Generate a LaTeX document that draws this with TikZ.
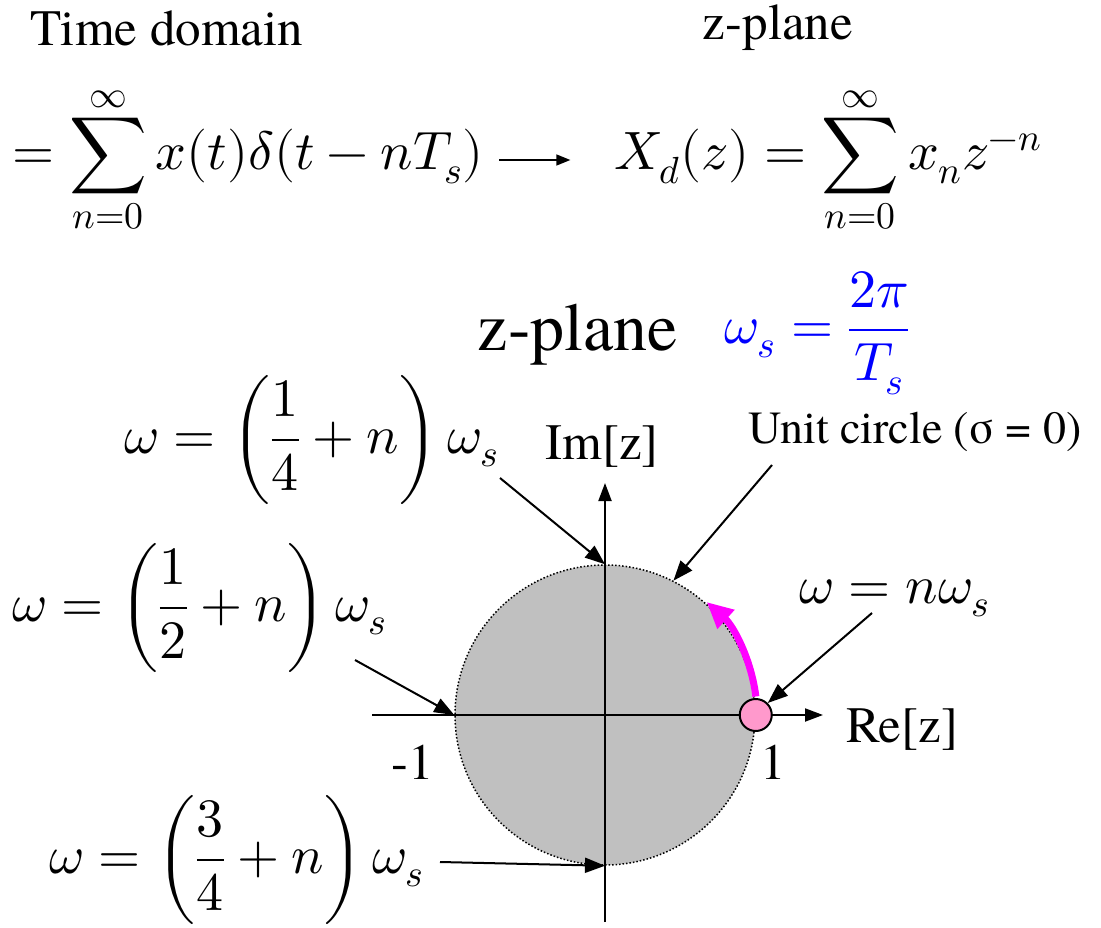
\documentclass[tikz,border=0pt]{standalone}
\usepackage{amsmath}
\usepackage{unicode-math}
\setmainfont{texgyretermes}[Extension=.otf, UprightFont=*-regular, BoldFont=*-bold, ItalicFont=*-italic, BoldItalicFont=*-bolditalic]
\setmathfont{Latin Modern Math}
\usetikzlibrary{arrows.meta}
\definecolor{circgray}{RGB}{192,192,192}
\definecolor{pinkpt}{RGB}{255,153,204}
\definecolor{magarc}{RGB}{255,0,255}
\definecolor{bluef}{RGB}{0,0,255}
\begin{document}
\begin{tikzpicture}[x=1pt,y=-1pt,
  lbl/.style={font=\rmfamily\fontsize{51}{60}\selectfont, inner sep=0pt},
  ulbl/.style={font=\rmfamily\fontsize{46}{54}\selectfont, inner sep=0pt},
  big/.style={font=\rmfamily\fontsize{68}{80}\selectfont, inner sep=0pt},
  mth/.style={font=\fontsize{54}{64}\selectfont, inner sep=0pt},
  ptr/.style={line width=2pt,-{Triangle[length=20pt,width=15pt]}},
  axisline/.style={line width=2pt,-{Triangle[length=18pt,width=13pt]}},
]
\useasboundingbox (0,0) rectangle (1101,928);

% top row
\node[lbl] (time) at (167,28) {Time domain};
\node[lbl] (zp1) at (778,28) {z-plane};
\node[mth] (f1) at (248,160) {$\displaystyle =\sum_{n=0}^{\infty} x(t)\delta(t-nT_s)$};
\node[mth] (f2) at (828,160) {$\displaystyle X_d(z)=\sum_{n=0}^{\infty} x_n z^{-n}$};
\draw[line width=1.5pt,-{Triangle[length=14pt,width=11pt]},shorten <=15pt,shorten >=44pt] (f1.east) -- (f2.west);

% titles
\node[big] (zp2) at (578,335) {z-plane};
\node[mth,text=bluef] (ws) at (817,333) {$\omega_s=\dfrac{2\pi}{T_s}$};

% unit circle
\node[circle, minimum size=300pt, inner sep=0pt, fill=circgray, draw, dotted, line width=1.5pt] (uc) at (605,715) {};

% axes
\coordinate (xs) at (372,715);
\coordinate (xe) at (823,715);
\coordinate (ys) at (605,922);
\coordinate (ye) at (605,483);
\draw[axisline] (xs) -- (xe);
\draw[axisline] (ys) -- (ye);

\node[lbl] (re) at (902,730) {Re[z]};
\node[lbl] (im) at (602,447) {Im[z]};
\node[lbl] (one) at (773,762) {1};
\node[lbl] (mone) at (413,762) {-1};

% magenta arc
\draw[magarc, line width=7pt, -{Triangle[length=26pt,width=24pt]}] (uc.center) ++(-7:152) arc[start angle=-7, end angle=-48, radius=152];
\node[circle, minimum size=32pt, inner sep=0pt, fill=pinkpt, draw, line width=2pt] (pt) at (uc.east) {};

% labels
\node[ulbl] (unit) at (915,432) {Unit circle (σ = 0)};
\node[mth] (wn) at (895,598) {$\omega = n\omega_s$};
\node[mth] (w14) at (312,440) {$\omega=\left(\dfrac{1}{4}+n\right)\omega_s$};
\node[mth] (w12) at (200,608) {$\omega=\left(\dfrac{1}{2}+n\right)\omega_s$};
\node[mth] (w34) at (237,860) {$\omega=\left(\dfrac{3}{4}+n\right)\omega_s$};

% pointers
\coordinate (s14) at (500,478);
\coordinate (s12) at (355,660);
\coordinate (s34) at (440,862);
\coordinate (sun) at (772,465);
\coordinate (snw) at (872,613);
\draw[ptr] (s14) -- (uc.north);
\draw[ptr] (s12) -- (uc.west);
\draw[ptr] (s34) -- (uc.south);
\draw[ptr] (sun) -- (uc.63);
\draw[ptr] (snw) -- (pt.north east);
\end{tikzpicture}
\end{document}
